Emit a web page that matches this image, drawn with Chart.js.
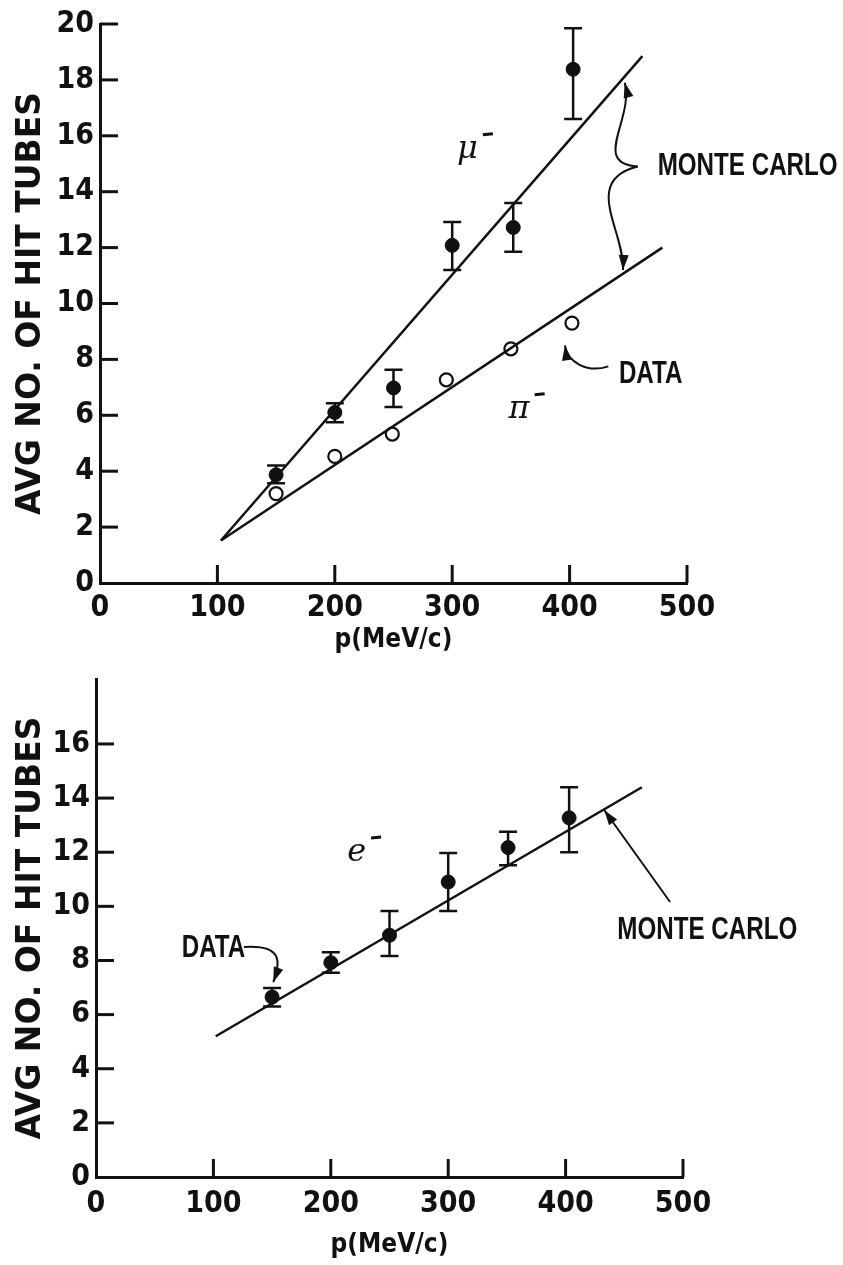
<!DOCTYPE html>
<html>
<head>
<meta charset="utf-8">
<script src="https://cdn.jsdelivr.net/npm/chart.js@4.4.1/dist/chart.umd.min.js"></script>
<style>
    html, body { margin: 0; padding: 0; background: #fff; }
    #wrap { position: relative; width: 843px; height: 1265px; overflow: hidden; }
    canvas { position: absolute; left: 0; }
</style>
</head>
<body>
<div id="wrap">
    <canvas id="topchart" width="843" height="660" style="top:0"></canvas>
    <canvas id="bottomchart" width="843" height="610" style="top:655px"></canvas>
</div>
<script>
// ---- top panel: mu- and pi- ----
const muP = [150, 200, 250, 300, 352, 403];
const muN = [3.87, 6.1, 6.98, 12.08, 12.72, 18.38];
const muHi = [4.2, 6.43, 7.63, 12.92, 13.6, 19.85];
const muLo = [3.57, 5.75, 6.3, 11.2, 11.85, 16.6];

const piP = [150, 200, 249, 295, 350, 402];
const piN = [3.2, 4.53, 5.33, 7.27, 8.38, 9.3];

const mcMuP = [103, 462];
const mcMuN = [1.52, 18.85];
const mcPiP = [103, 479];
const mcPiN = [1.52, 12.0];

// ---- bottom panel: e- ----
const eP = [150, 200, 250, 300, 351, 403];
const eN = [6.65, 7.92, 8.93, 10.9, 12.17, 13.27];
const eHi = [6.98, 8.3, 9.83, 11.97, 12.76, 14.4];
const eLo = [6.3, 7.55, 8.17, 9.83, 11.52, 12.0];

const mcEP = [102, 465];
const mcEN = [5.2, 14.4];

// tick labels
const xTicks = [0, 100, 200, 300, 400, 500];
const yTicksTop = [0, 2, 4, 6, 8, 10, 12, 14, 16, 18, 20];
const yTicksBottom = [0, 2, 4, 6, 8, 10, 12, 14, 16];

const ink = '#111';
const narrow = '"DejaVu Sans Condensed", "Liberation Sans Narrow", sans-serif';

function toPts(xs, ys) {
    return xs.map((x, i) => ({ x: x, y: ys[i] }));
}

// inward tick marks, like the hand-drawn axes
const inwardTicks = {
    id: 'inwardTicks',
    afterDraw(chart) {
        const { ctx, chartArea } = chart;
        const x = chart.scales.x, y = chart.scales.y;
        ctx.save();
        ctx.strokeStyle = ink;
        ctx.lineWidth = 3;
        x.ticks.forEach(t => {
            if (t.value === 0) return;
            const px = x.getPixelForValue(t.value);
            ctx.beginPath();
            ctx.moveTo(px, chartArea.bottom);
            ctx.lineTo(px, chartArea.bottom - 18);
            ctx.stroke();
        });
        y.ticks.forEach(t => {
            if (t.value === 0) return;
            const py = y.getPixelForValue(t.value);
            ctx.beginPath();
            ctx.moveTo(chartArea.left, py);
            ctx.lineTo(chartArea.left + 18, py);
            ctx.stroke();
        });
        ctx.restore();
    }
};

const errorBars = {
    id: 'errorBars',
    afterDatasetsDraw(chart, args, opts) {
        const { ctx } = chart;
        const x = chart.scales.x, y = chart.scales.y;
        ctx.save();
        ctx.strokeStyle = ink;
        ctx.lineWidth = 2.5;
        opts.xs.forEach((p, i) => {
            const px = x.getPixelForValue(p);
            const top = y.getPixelForValue(opts.hi[i]);
            const bot = y.getPixelForValue(opts.lo[i]);
            ctx.beginPath();
            ctx.moveTo(px, top); ctx.lineTo(px, bot);
            ctx.moveTo(px - 9, top); ctx.lineTo(px + 9, top);
            ctx.moveTo(px - 9, bot); ctx.lineTo(px + 9, bot);
            ctx.stroke();
        });
        ctx.restore();
    }
};

function arrowHead(ctx, fx, fy, tx, ty, len, half) {
    const a = Math.atan2(ty - fy, tx - fx);
    ctx.beginPath();
    ctx.moveTo(tx, ty);
    ctx.lineTo(tx - len * Math.cos(a) + half * Math.sin(a), ty - len * Math.sin(a) - half * Math.cos(a));
    ctx.lineTo(tx - len * Math.cos(a) - half * Math.sin(a), ty - len * Math.sin(a) + half * Math.cos(a));
    ctx.closePath();
    ctx.fill();
}

// text labels and pointer arrows placed in data coordinates
const notes = {
    id: 'notes',
    afterDraw(chart, args, opts) {
        const { ctx } = chart;
        const x = chart.scales.x, y = chart.scales.y;
        const at = (p, v) => [x.getPixelForValue(p), y.getPixelForValue(v)];
        ctx.save();
        ctx.fillStyle = ink;
        ctx.strokeStyle = ink;
        ctx.textBaseline = 'middle';

        (opts.texts || []).forEach(t => {
            const [px, py] = at(t.p, t.v);
            ctx.save();
            ctx.translate(px, py);
            ctx.scale(0.78, 1);   // squeeze to look like the narrow typewriter lettering
            ctx.font = 'bold 31px "Liberation Sans", Arial, sans-serif';
            ctx.textAlign = 'left';
            ctx.fillText(t.text, 0, 0);
            ctx.restore();
        });

        (opts.symbols || []).forEach(s => {
            const [px, py] = at(s.p, s.v);
            ctx.font = 'italic 32px "DejaVu Serif", serif';
            ctx.textAlign = 'center';
            ctx.fillText(s.sym, px, py);
            const w = ctx.measureText(s.sym).width;
            ctx.lineWidth = 3;
            ctx.beginPath();
            ctx.moveTo(px + w / 2 + 5, py - 15);
            ctx.lineTo(px + w / 2 + 15, py - 16);
            ctx.stroke();
        });

        ctx.lineWidth = 2;
        (opts.curves || []).forEach(c => {
            const q = c.map(pt => at(pt[0], pt[1]));
            ctx.beginPath();
            ctx.moveTo(q[0][0], q[0][1]);
            if (q.length === 4) {
                ctx.bezierCurveTo(q[1][0], q[1][1], q[2][0], q[2][1], q[3][0], q[3][1]);
            } else {
                ctx.lineTo(q[1][0], q[1][1]);
            }
            ctx.stroke();
            const n = q.length;
            arrowHead(ctx, q[n - 2][0], q[n - 2][1], q[n - 1][0], q[n - 1][1], 15, 5);
        });
        ctx.restore();
    }
};

function makeOptions(cfg) {
    return {
        responsive: false,
        animation: false,
        layout: { padding: cfg.padding },
        plugins: {
            legend: { display: false },
            tooltip: { enabled: false },
            errorBars: cfg.errors,
            notes: cfg.notes
        },
        scales: {
            x: {
                type: 'linear',
                min: 0,
                max: 500,
                afterBuildTicks: scale => { scale.ticks = xTicks.map(v => ({ value: v })); },
                afterFit: scale => { scale.height = cfg.xHeight; },
                grid: { display: false, drawTicks: false },
                border: { display: true, color: ink, width: 3 },
                ticks: {
                    color: ink,
                    padding: cfg.xPad,
                    font: { family: narrow, size: 30, weight: 'bold' }
                },
                title: {
                    display: true,
                    text: 'p(MeV/c)',
                    color: ink,
                    padding: { top: 0, bottom: 0 },
                    font: { family: narrow, size: 26, weight: 'bold' }
                }
            },
            y: {
                type: 'linear',
                min: 0,
                max: cfg.yMax,
                afterBuildTicks: scale => { scale.ticks = cfg.yTicks.map(v => ({ value: v })); },
                afterFit: scale => { scale.width = cfg.yWidth; },
                grid: { display: false, drawTicks: false },
                border: { display: true, color: ink, width: 3 },
                ticks: {
                    color: ink,
                    padding: 6,
                    font: { family: narrow, size: 30, weight: 'bold' }
                },
                title: {
                    display: true,
                    text: 'AVG NO. OF HIT TUBES',
                    color: ink,
                    padding: { top: 12, bottom: 0 },
                    font: { family: '"DejaVu Sans", sans-serif', size: 33, weight: 'bold' }
                }
            }
        }
    };
}

const lineStyle = { showLine: true, borderColor: ink, borderWidth: 2.5, pointRadius: 0, fill: false };

new Chart(document.getElementById('topchart'), {
    type: 'scatter',
    data: {
        datasets: [
            Object.assign({ label: 'Monte Carlo mu-', data: toPts(mcMuP, mcMuN) }, lineStyle),
            Object.assign({ label: 'Monte Carlo pi-', data: toPts(mcPiP, mcPiN) }, lineStyle),
            { label: 'mu- data', data: toPts(muP, muN), pointRadius: 7, backgroundColor: ink, borderColor: ink, borderWidth: 1 },
            { label: 'pi- data', data: toPts(piP, piN), pointRadius: 6.5, backgroundColor: '#fff', borderColor: ink, borderWidth: 2.2 }
        ]
    },
    options: makeOptions({
        padding: { left: 0, right: 156, top: 20, bottom: 4 },
        xHeight: 73,
        xPad: 7,
        yWidth: 100,
        yMax: 20,
        yTicks: yTicksTop,
        errors: { xs: muP, hi: muHi, lo: muLo },
        notes: {
            texts: [
                { text: 'MONTE CARLO', p: 475, v: 14.9 },
                { text: 'DATA', p: 442, v: 7.47 }
            ],
            symbols: [
                { sym: 'μ', p: 313, v: 15.5 },
                { sym: 'π', p: 357, v: 6.2 }
            ],
            curves: [
                [[458, 14.9], [418, 15.0], [455, 16.6], [447, 17.9]],
                [[458, 14.9], [410, 14.4], [447, 12.6], [445.5, 11.2]],
                [[433, 7.75], [415, 7.5], [398, 7.9], [396, 8.5]]
            ]
        }
    }),
    plugins: [inwardTicks, errorBars, notes]
});

new Chart(document.getElementById('bottomchart'), {
    type: 'scatter',
    data: {
        datasets: [
            Object.assign({ label: 'Monte Carlo e-', data: toPts(mcEP, mcEN) }, lineStyle),
            { label: 'e- data', data: toPts(eP, eN), pointRadius: 7, backgroundColor: ink, borderColor: ink, borderWidth: 1 }
        ]
    },
    options: makeOptions({
        padding: { left: 0, right: 160, top: 20, bottom: 4 },
        xHeight: 84,
        xPad: 9,
        yWidth: 96,
        yMax: 18.4,
        yTicks: yTicksBottom,
        errors: { xs: eP, hi: eHi, lo: eLo },
        notes: {
            texts: [
                { text: 'DATA', p: 73, v: 8.46 },
                { text: 'MONTE CARLO', p: 444, v: 9.11 }
            ],
            symbols: [
                { sym: 'e', p: 222, v: 11.97 }
            ],
            curves: [
                [[126, 8.5], [160, 8.6], [157, 7.9], [151, 7.2]],
                [[489, 10.16], [433, 13.55]]
            ]
        }
    }),
    plugins: [inwardTicks, errorBars, notes]
});
</script>
</body>
</html>
